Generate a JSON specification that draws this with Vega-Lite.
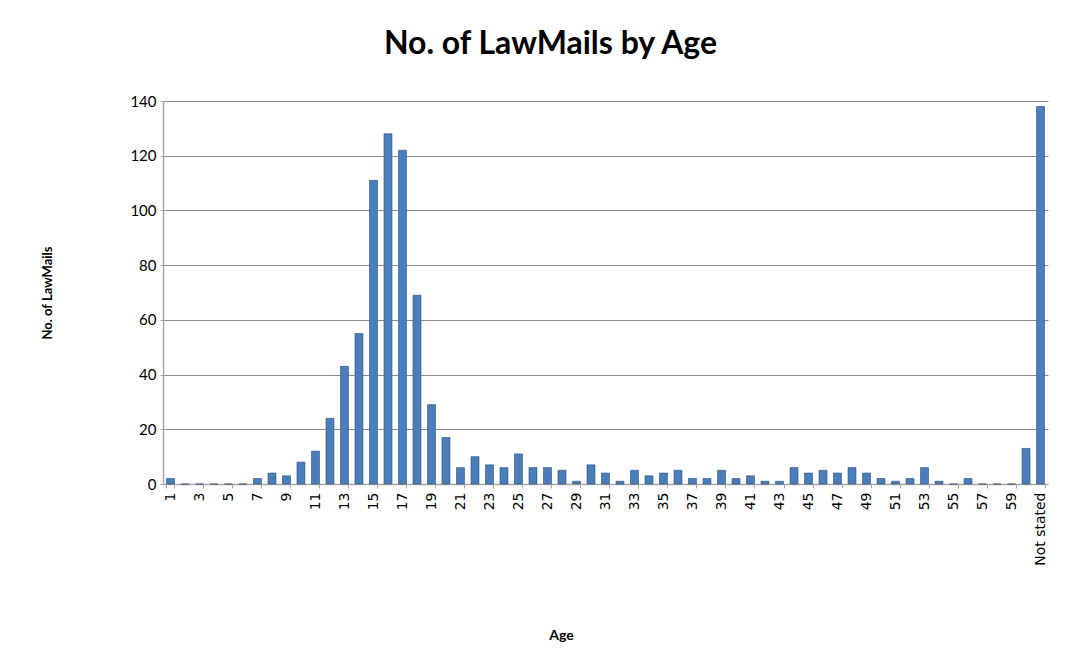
{
  "$schema": "https://vega.github.io/schema/vega-lite/v6.json",
  "autosize": "none",
  "width": 885,
  "height": 383,
  "padding": {"left": 163, "top": 101, "right": 42, "bottom": 178},
  "background": "white",
  "title": {
    "text": "No. of LawMails by Age",
    "font": "Lato",
    "fontSize": 32,
    "fontWeight": "bold",
    "color": "#000000",
    "anchor": "middle",
    "dx": -55,
    "offset": 33
  },
  "data": {
    "values": [
      {"age": "1", "count": 2}, {"age": "2", "count": 0}, {"age": "3", "count": 0},
      {"age": "4", "count": 0}, {"age": "5", "count": 0}, {"age": "6", "count": 0},
      {"age": "7", "count": 2}, {"age": "8", "count": 4}, {"age": "9", "count": 3},
      {"age": "10", "count": 8}, {"age": "11", "count": 12}, {"age": "12", "count": 24},
      {"age": "13", "count": 43}, {"age": "14", "count": 55}, {"age": "15", "count": 111},
      {"age": "16", "count": 128}, {"age": "17", "count": 122}, {"age": "18", "count": 69},
      {"age": "19", "count": 29}, {"age": "20", "count": 17}, {"age": "21", "count": 6},
      {"age": "22", "count": 10}, {"age": "23", "count": 7}, {"age": "24", "count": 6},
      {"age": "25", "count": 11}, {"age": "26", "count": 6}, {"age": "27", "count": 6},
      {"age": "28", "count": 5}, {"age": "29", "count": 1}, {"age": "30", "count": 7},
      {"age": "31", "count": 4}, {"age": "32", "count": 1}, {"age": "33", "count": 5},
      {"age": "34", "count": 3}, {"age": "35", "count": 4}, {"age": "36", "count": 5},
      {"age": "37", "count": 2}, {"age": "38", "count": 2}, {"age": "39", "count": 5},
      {"age": "40", "count": 2}, {"age": "41", "count": 3}, {"age": "42", "count": 1},
      {"age": "43", "count": 1}, {"age": "44", "count": 6}, {"age": "45", "count": 4},
      {"age": "46", "count": 5}, {"age": "47", "count": 4}, {"age": "48", "count": 6},
      {"age": "49", "count": 4}, {"age": "50", "count": 2}, {"age": "51", "count": 1},
      {"age": "52", "count": 2}, {"age": "53", "count": 6}, {"age": "54", "count": 1},
      {"age": "55", "count": 0}, {"age": "56", "count": 2}, {"age": "57", "count": 0},
      {"age": "58", "count": 0}, {"age": "59", "count": 0}, {"age": "60", "count": 13},
      {"age": "Not stated", "count": 138}
    ]
  },
  "mark": {"type": "bar", "color": "#4a7ebb", "stroke": "#2c4d75", "strokeWidth": 0.6},
  "encoding": {
    "x": {
      "field": "age",
      "type": "ordinal",
      "sort": null,
      "scale": {"paddingInner": 0.45, "paddingOuter": 0.24},
      "axis": {
        "title": "Age",
        "titleFont": "Lato",
        "titleFontSize": 14,
        "titleFontWeight": "bold",
        "titleColor": "#000000",
        "titleX": 398,
        "titlePadding": 63,
        "labelAngle": -90,
        "labelFont": "DejaVu Sans",
        "labelFontSize": 14,
        "labelColor": "#000000",
        "labelPadding": 4,
        "values": ["1","3","5","7","9","11","13","15","17","19","21","23","25","27","29","31","33","35","37","39","41","43","45","47","49","51","53","55","57","59","Not stated"],
        "domainColor": "#a6a6a6",
        "domainWidth": 1.5,
        "ticks": true,
        "tickColor": "#a6a6a6",
        "tickSize": 4,
        "tickBand": "extent",
        "grid": false
      }
    },
    "y": {
      "field": "count",
      "type": "quantitative",
      "scale": {"domain": [0, 140], "nice": false},
      "axis": {
        "title": "No. of LawMails",
        "titleFont": "Lato",
        "titleFontSize": 13,
        "titleFontWeight": "bold",
        "titleColor": "#000000",
        "titlePadding": 75,
        "values": [0, 20, 40, 60, 80, 100, 120, 140],
        "labelFont": "Lato",
        "labelFontSize": 15,
        "labelColor": "#000000",
        "labelPadding": 4,
        "domainColor": "#a6a6a6",
        "domainWidth": 1.5,
        "tickColor": "#a6a6a6",
        "tickSize": 3,
        "grid": true,
        "gridColor": "#8c8c8c",
        "gridWidth": 1
      }
    }
  },
  "config": {
    "view": {"stroke": null}
  }
}
